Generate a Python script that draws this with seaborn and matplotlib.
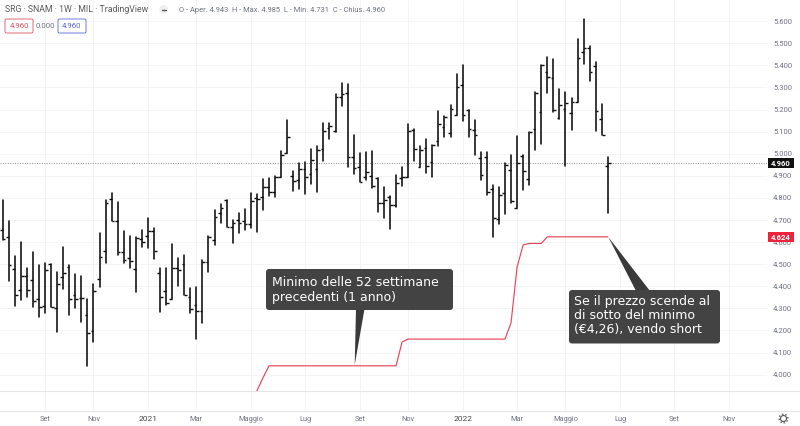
import matplotlib
matplotlib.use("Agg")
import matplotlib.pyplot as plt
from matplotlib.lines import Line2D
from matplotlib.patches import Circle, FancyBboxPatch, Polygon, Rectangle
from matplotlib.transforms import IdentityTransform
import numpy as np
import pandas as pd
import seaborn as sns

highs = [4.791,4.696,4.537,4.600,4.483,4.555,4.496,4.505,4.501,4.465,4.578,4.496,4.456,4.447,4.342,4.410,4.641,4.791,4.822,4.782,
         4.650,4.628,4.623,4.655,4.709,4.664,4.483,4.483,4.591,4.528,4.542,4.392,4.397,4.519,4.628,4.745,4.772,4.791,4.700,4.732,
         4.750,4.822,4.818,4.886,4.890,4.899,5.012,5.153,4.922,4.958,4.963,5.021,5.035,5.139,5.139,5.270,5.320,5.316,5.085,5.003,
         5.008,5.012,4.890,4.849,4.809,4.904,4.940,5.135,5.112,5.035,5.067,5.040,5.193,5.171,5.221,5.361,5.402,5.198,5.153,5.008,
         5.008,4.858,4.849,4.958,4.994,5.080,4.994,5.098,5.279,5.402,5.438,5.429,5.293,5.279,5.252,5.519,5.610,5.488,5.415,5.225,4.985]
lows = [4.609,4.424,4.311,4.338,4.352,4.306,4.261,4.279,4.306,4.193,4.388,4.270,4.302,4.238,4.039,4.148,4.397,4.505,4.696,4.542,
        4.505,4.483,4.374,4.578,4.573,4.523,4.284,4.315,4.342,4.401,4.361,4.279,4.161,4.234,4.465,4.587,4.686,4.668,4.596,4.641,
        4.655,4.664,4.646,4.745,4.809,4.804,4.895,5.003,4.831,4.840,4.818,4.863,4.827,4.967,5.067,5.098,5.216,4.940,4.908,4.872,
        4.881,4.845,4.736,4.709,4.659,4.759,4.854,4.895,4.967,4.940,4.913,4.895,5.035,5.076,5.076,5.175,5.148,5.076,4.994,4.881,
        4.813,4.623,4.682,4.727,4.777,4.754,4.836,4.858,5.017,5.044,5.275,5.189,5.157,4.944,5.107,5.234,5.406,5.329,5.103,5.085,4.731]
opens = [4.655,4.623,4.478,4.383,4.447,4.428,4.342,4.311,4.501,4.302,4.442,4.487,4.361,4.347,4.270,4.198,4.433,4.560,4.795,4.696,
         4.555,4.528,4.478,4.614,4.628,4.650,4.460,4.379,4.342,4.483,4.501,4.352,4.315,4.288,4.510,4.609,4.732,4.791,4.668,4.700,
         4.696,4.682,4.800,4.804,4.849,4.827,4.895,5.003,4.899,4.881,4.931,4.908,4.931,5.021,5.117,5.103,5.257,5.275,4.985,4.940,
         4.895,4.899,4.890,4.777,4.804,4.768,4.890,4.895,5.107,4.940,5.026,4.963,5.058,5.121,5.094,5.175,5.311,5.198,5.107,4.981,
         4.985,4.840,4.705,4.822,4.926,4.754,4.990,4.886,5.112,5.189,5.370,5.343,5.162,5.203,5.184,5.234,5.461,5.479,5.397,5.157,4.943]
closes = [4.614,4.496,4.361,4.447,4.383,4.333,4.306,4.474,4.306,4.410,4.460,4.342,4.342,4.347,4.188,4.379,4.533,4.777,4.696,4.555,
          4.519,4.514,4.619,4.600,4.650,4.560,4.352,4.324,4.483,4.474,4.361,4.297,4.288,4.510,4.623,4.714,4.754,4.668,4.686,4.686,
          4.682,4.786,4.795,4.849,4.827,4.895,4.994,5.076,4.877,4.931,4.895,4.972,5.017,5.103,5.126,5.257,5.270,4.985,4.935,4.872,
          4.917,4.854,4.777,4.791,4.768,4.868,4.895,5.103,5.021,5.017,4.944,5.040,5.135,5.166,5.203,5.302,5.175,5.112,5.085,4.904,
          4.827,4.709,4.813,4.949,4.786,4.958,4.922,5.098,5.275,5.402,5.347,5.198,5.221,5.230,5.234,5.433,5.479,5.370,5.193,5.085,4.960]
low52_weeks = list(range(42, 101))
low52 = [3.926,3.985] + [4.04]*22 + [4.148] + [4.161]*17 + [4.234,4.487,4.587,4.594,4.594,4.594] + [4.624]*11

tick_weeks = [7,15,24,32,41,50,59,67,76,85,93,102,111,120]
tick_labels = ["Set","Nov","2021","Mar","Maggio","Lug","Set","Nov","2022","Mar","Maggio","Lug","Set","Nov"]
price_ticks = [4.0,4.1,4.2,4.3,4.4,4.5,4.6,4.7,4.8,4.9,5.0,5.1,5.2,5.3,5.4,5.5,5.6]

W, H = 800, 426
FONT = "Roboto"
sns.set_theme(style="white", rc={"font.family": FONT})
fig = plt.figure(figsize=(W/100, H/100), dpi=100, facecolor="white")
ax = fig.add_axes([0, 1-410/H, 767/W, 410/H])
px_t = IdentityTransform()

weeks = np.arange(len(highs))
wicks = pd.DataFrame({"week": np.r_[weeks, weeks], "price": np.r_[highs, lows]})
LW = 1.15
sns.lineplot(data=wicks, x="week", y="price", units="week", estimator=None,
             color="#0c0c0c", linewidth=LW, ax=ax, zorder=3, legend=False)
ax.hlines(opens, weeks-0.45, weeks, color="#0c0c0c", lw=1.0, zorder=3)
ax.hlines(closes, weeks, weeks+0.45, color="#0c0c0c", lw=1.0, zorder=3)
sns.lineplot(x=low52_weeks, y=low52, color="#e8455a", linewidth=0.85, ax=ax, zorder=2, legend=False)

ax.set_xlim(-0.446, 126.3)
ax.set_ylim(5.696-0.004527*410, 5.696)
ax.set_xlabel(""); ax.set_ylabel("")
ax.set_xticks(tick_weeks)
ax.set_xticklabels(tick_labels)
ax.yaxis.tick_right()
ax.set_yticks(price_ticks)
ax.set_yticklabels([f"{p:.3f}" for p in price_ticks])
ax.tick_params(axis="y", length=0, pad=4.3, labelsize=5.5, labelcolor="#6f7280")
ax.tick_params(axis="x", length=0, pad=4.2, labelsize=5.3, labelcolor="#6f7280")
for lab in ax.get_xticklabels():
    if lab.get_text().startswith("202"):
        lab.set_color("#444444"); lab.set_fontsize(6)
ax.grid(True, color="#f4f4f4", lw=0.7)
ax.set_axisbelow(True)
for s in ax.spines.values():
    s.set_visible(False)
ax.axhline(closes[-1], color="#8a8a8a", lw=0.7, ls=(0, (1, 1.5)), zorder=1)

# frame lines of the chart
for y in (390.5, 410.5):
    fig.add_artist(Line2D([0, 800], [H-y, H-y], transform=px_t, color="#e6e6e6", lw=0.8))

# price badges on the right
def badge(y, txt, col):
    fig.add_artist(Rectangle((767.5, H-y-4.7), 26.5, 9.4, transform=px_t, fc=col, ec="none", zorder=5))
    fig.text(781/W, 1-y/H, txt, color="white", fontsize=5.5, fontweight="bold", ha="center", va="center", zorder=6)
badge(163, "4.960", "#111111")
badge(237, "4.624", "#ef233c")

# header
fig.text(5/W, 1-10/H, "SRG · SNAM · 1W · MIL · TradingView", fontsize=6.3, color="#5a5a5a", va="center")
fig.add_artist(Circle((163.5, H-9.5), 4.3, transform=px_t, fc="#eeeeee", ec="none"))
fig.add_artist(Line2D([161.5, 165.5], [H-9.5, H-9.5], transform=px_t, color="#555555", lw=1))
fig.text(179/W, 1-10/H, "O - Aper. 4.943  H - Max. 4.985  L - Min. 4.731  C - Chius. 4.960", fontsize=5.4, color="#6f7280", va="center")
def hbadge(x0, x1, txt, col):
    fig.add_artist(FancyBboxPatch((x0+1, H-32), x1-x0-2, 12, boxstyle="round,pad=1,rounding_size=1.5",
                                  transform=px_t, fc="white", ec=col, lw=0.6))
    fig.text((x0+x1)/2/W, 1-26/H, txt, color=col, fontsize=5.6, ha="center", va="center")
hbadge(5, 33, "4.960", "#d9505f")
fig.text(45/W, 1-26/H, "0.000", color="#6f7280", fontsize=5.6, ha="center", va="center")
hbadge(58, 86, "4.960", "#5a64d8")

# callouts
BOX = "#434343"
def callout(x0, y0, x1, y1, tail, lines, tx, ty, dy):
    fig.add_artist(Polygon(tail, closed=True, transform=px_t, fc="#3a3a3a", ec="none", zorder=7))
    fig.add_artist(FancyBboxPatch((x0+3, H-y1+3), x1-x0-6, y1-y0-6, boxstyle="round,pad=3,rounding_size=3",
                                  transform=px_t, fc=BOX, ec="none", zorder=7))
    for k, s in enumerate(lines):
        fig.text(tx/W, 1-(ty+k*dy)/H, s, color="white", fontsize=9.0, family="DejaVu Sans",
                 ha="left", va="center", zorder=8)
callout(266, 269, 453, 310, [(354.7, H-365), (356, H-309), (364.5, H-309)],
        ["Minimo delle 52 settimane", "precedenti (1 anno)"], 272, 282, 15)
callout(569, 290, 720, 343.5, [(608.3, H-237), (636, H-291), (650, H-291)],
        ["Se il prezzo scende al", "di sotto del minimo", "(€4,26), vendo short"], 574.5, 301.5, 14.2)

# settings gear
fig.add_artist(Circle((783.5, H-418.5), 3.0, transform=px_t, fc="none", ec="#555555", lw=0.8))
fig.add_artist(Circle((783.5, H-418.5), 4.4, transform=px_t, fc="none", ec="#555555", lw=0.9, ls=(0, (1.2, 1.6))))

fig.savefig("out.png", dpi=100)
